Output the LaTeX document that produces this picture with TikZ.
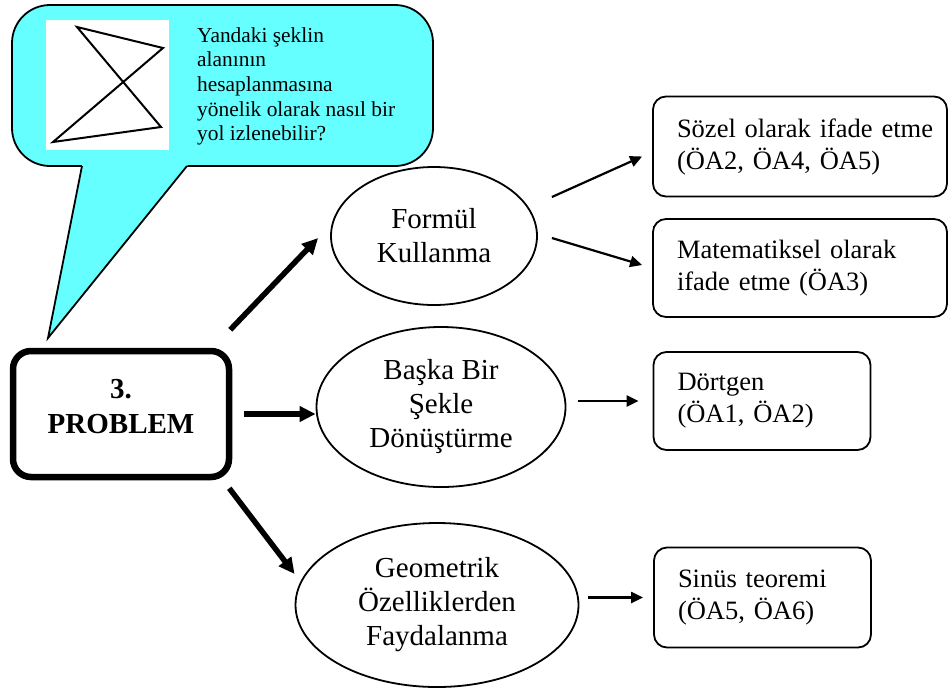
\documentclass[tikz,border=0pt]{standalone}
\usepackage{fontspec}
\setmainfont{Liberation Serif}
\usepackage{xcolor}
\usetikzlibrary{arrows.meta,shapes.geometric}

\definecolor{bubble}{RGB}{102,255,255}

\begin{document}
\begin{tikzpicture}[
      x=1pt, y=-1pt,
      % Reusable styles
      problem/.style={
        draw,
        line width=6.5pt,
        rounded corners=18pt,
        align=center,
        text depth=16pt,
        minimum width=216pt,
        minimum height=126pt,
        font=\bfseries\fontsize{29}{35}\selectfont
      },
      method/.style={
        ellipse,
        draw,
        line width=1.8pt,
        align=center,
        inner sep=0pt,
        font=\fontsize{29}{34}\selectfont
      },
      result/.style={
        draw,
        line width=1.8pt,
        rounded corners=13pt,
        align=left,
        inner xsep=24pt,
        minimum height=100pt,
        font=\fontsize{26.5}{32}\selectfont
      },
      bigarrow/.style={-{Triangle[length=16pt,width=15pt]}, line width=5.5pt},
      arrow/.style={-{Triangle[length=12pt,width=11pt]}, line width=2.2pt}
    ]
    \useasboundingbox (0,0) rectangle (949,691);

    % Speech bubble
    \draw[line width=1.8pt, fill=bubble, rounded corners=38pt] (12,5) rectangle (433,166);
    \fill[bubble] (82.8,162) -- (48,338) -- (190.2,162) -- cycle;
    \draw[line width=1.8pt] (82,166) -- (48,338) -- (187,166);
    \fill[white] (46,20) rectangle (169,150);
    \draw[line width=2pt] (77,27) -- (163,48) -- (53,142) -- (161,127) -- cycle;
    \node[anchor=north west, align=left, inner sep=0pt,
          font=\fontsize{21.4}{24.7}\selectfont] (question) at (197,27)
      {Yandaki şeklin\\alanının\\hesaplanmasına\\yönelik olarak nasıl bir\\yol izlenebilir?};

    % Nodes
    \node[problem] (problem) at (121,414) {3.\\PROBLEM};

    \node[method, minimum width=206pt, minimum height=138pt] (formul) at (434,236) {Formül\\Kullanma};
    \node[method, minimum width=249pt, minimum height=160pt] (baska) at (441,407) {Başka Bir\\Şekle\\Dönüştürme};
    \node[method, minimum width=283pt, minimum height=164pt] (geometrik) at (437,605) {Geometrik\\Özelliklerden\\Faydalanma};

    \node[result, text width=246pt] (sozel) at (800,146.5) {\mbox{Sözel olarak ifade etme}\\(ÖA2, ÖA4, ÖA5)};
    \node[result, text width=246pt, minimum height=98pt] (matematik) at (800,268) {Matematiksel olarak\\ifade etme (ÖA3)};
    \node[result, text width=169pt, minimum height=98pt] (dortgen) at (762,401) {Dörtgen\\(ÖA1, ÖA2)};
    \node[result, text width=169pt] (sinus) at (762.5,597.5) {Sinüs teoremi\\(ÖA5, ÖA6)};

    % Edges
    \draw[bigarrow] ([xshift=-2pt,yshift=18pt]problem.north east) -- ([xshift=-12pt,yshift=-2pt]formul.west);
    \draw[bigarrow] ([xshift=12pt]problem.east) -- (baska.west |- problem.east);
    \draw[bigarrow] ([xshift=-3pt,yshift=-8pt]problem.south east) -- ([yshift=31pt]geometrik.west);

    \draw[arrow] ([xshift=14pt,yshift=39pt]formul.east) -- ([xshift=-10pt,yshift=-10pt]sozel.west);
    \draw[arrow] ([xshift=14pt,yshift=-2pt]formul.east) -- ([xshift=-10pt,yshift=3pt]matematik.west);
    \draw[arrow] ([xshift=12pt]baska.east |- dortgen.west) -- ([xshift=-14pt]dortgen.west);
    \draw[arrow] ([xshift=9pt]geometrik.east |- sinus.west) -- ([xshift=-10pt]sinus.west);
  \end{tikzpicture}
\end{document}
